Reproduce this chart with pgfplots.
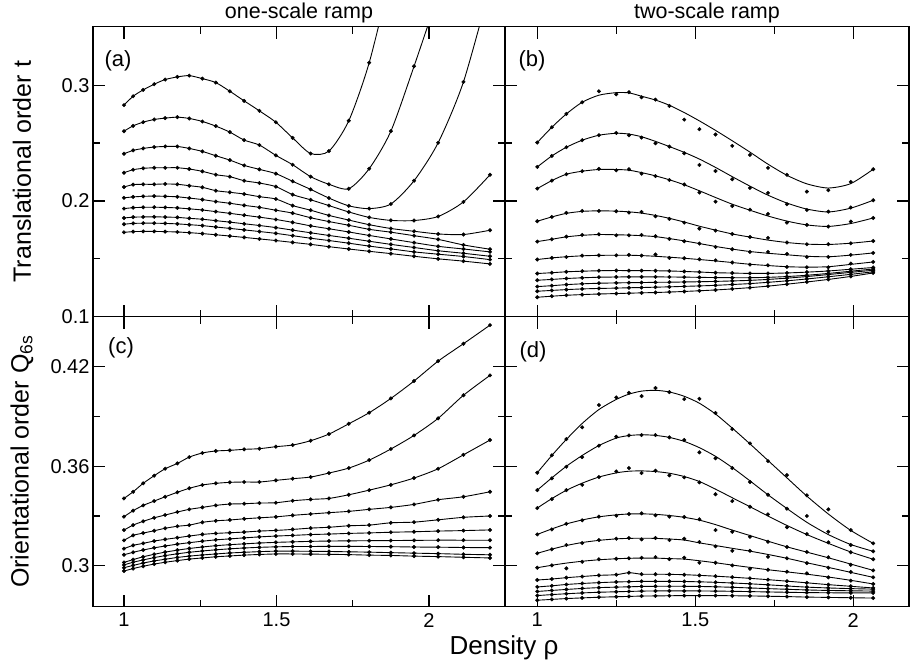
\documentclass[border=0pt]{standalone}
\usepackage{fontspec}
\setmainfont{Liberation Sans}
\usepackage{pgfplots}
\usepackage{pgfplotstable}
\pgfplotsset{compat=1.18}

% ---------- panel (a): translational order, one-scale ramp ----------
\pgfplotstableread{
x     a1     a2     a3     a4     a5     a6     a7     a8     a9     a10
1.000 0.2828 0.2603 0.2408 0.2244 0.2121 0.2027 0.1934 0.1853 0.1799 0.1729
1.030 0.2905 0.2649 0.2437 0.2270 0.2141 0.2035 0.1942 0.1860 0.1806 0.1735
1.063 0.2960 0.2681 0.2454 0.2282 0.2144 0.2040 0.1945 0.1862 0.1808 0.1737
1.099 0.3009 0.2704 0.2466 0.2287 0.2144 0.2042 0.1946 0.1863 0.1808 0.1737
1.135 0.3049 0.2716 0.2471 0.2287 0.2147 0.2040 0.1944 0.1861 0.1806 0.1735
1.175 0.3072 0.2724 0.2471 0.2287 0.2144 0.2036 0.1940 0.1858 0.1802 0.1732
1.214 0.3083 0.2713 0.2454 0.2276 0.2132 0.2025 0.1932 0.1850 0.1795 0.1726
1.257 0.3057 0.2687 0.2428 0.2256 0.2118 0.2012 0.1922 0.1842 0.1787 0.1718
1.301 0.3023 0.2647 0.2391 0.2227 0.2089 0.1995 0.1908 0.1830 0.1775 0.1708
1.347 0.2948 0.2595 0.2353 0.2210 0.2075 0.1980 0.1893 0.1817 0.1763 0.1697
1.394 0.2865 0.2526 0.2307 0.2175 0.2060 0.1962 0.1877 0.1803 0.1750 0.1685
1.444 0.2779 0.2483 0.2273 0.2155 0.2037 0.1945 0.1860 0.1788 0.1736 0.1672
1.498 0.2680 0.2394 0.2236 0.2124 0.2017 0.1920 0.1840 0.1770 0.1720 0.1658
1.553 0.2545 0.2313 0.2170 0.2055 0.1960 0.1895 0.1815 0.1748 0.1700 0.1642
1.612 0.2410 0.2210 0.2100 0.2010 0.1920 0.1855 0.1785 0.1725 0.1678 0.1625
1.672 0.2431 0.2144 0.2025 0.1960 0.1875 0.1822 0.1760 0.1702 0.1658 0.1605
1.737 0.2693 0.2106 0.1958 0.1905 0.1835 0.1790 0.1732 0.1678 0.1635 0.1585
1.804 0.3195 0.2279 0.1934 0.1858 0.1795 0.1755 0.1702 0.1652 0.1610 0.1565
1.875 0.3950 0.2603 0.1974 0.1832 0.1762 0.1730 0.1672 0.1625 0.1586 0.1545
1.951 nan    0.3164 0.2175 0.1831 0.1738 0.1700 0.1640 0.1598 0.1560 0.1522
2.030 nan    0.3780 0.2503 0.1866 0.1715 0.1668 0.1608 0.1570 0.1540 0.1500
2.113 nan    nan    0.3029 0.1992 0.1710 0.1620 0.1585 0.1548 0.1520 0.1480
2.200 nan    nan    0.3850 0.2226 0.1747 0.1583 0.1560 0.1522 0.1493 0.1456
}\tabA

% ---------- panel (c): orientational order, one-scale ramp ----------
\pgfplotstableread{
x     c1     c2     c3     c4     c5     c6     c7     c8     c9     c10
1.000 0.3406 0.3296 0.3215 0.3153 0.3103 0.3066 0.3020 0.3005 0.2988 0.2968
1.030 0.3446 0.3332 0.3245 0.3183 0.3123 0.3081 0.3037 0.3021 0.3002 0.2983
1.063 0.3497 0.3364 0.3268 0.3197 0.3135 0.3095 0.3054 0.3035 0.3016 0.2997
1.099 0.3543 0.3390 0.3289 0.3211 0.3149 0.3108 0.3069 0.3049 0.3029 0.3010
1.135 0.3585 0.3416 0.3306 0.3226 0.3159 0.3119 0.3082 0.3061 0.3039 0.3021
1.175 0.3617 0.3443 0.3324 0.3238 0.3169 0.3130 0.3094 0.3072 0.3050 0.3031
1.214 0.3655 0.3467 0.3340 0.3245 0.3179 0.3139 0.3104 0.3081 0.3058 0.3040
1.257 0.3680 0.3487 0.3352 0.3262 0.3189 0.3148 0.3113 0.3089 0.3065 0.3047
1.301 0.3692 0.3497 0.3364 0.3271 0.3195 0.3156 0.3121 0.3096 0.3071 0.3054
1.347 0.3696 0.3503 0.3372 0.3276 0.3199 0.3162 0.3127 0.3102 0.3077 0.3059
1.394 0.3702 0.3505 0.3374 0.3283 0.3203 0.3168 0.3132 0.3107 0.3081 0.3064
1.444 0.3706 0.3505 0.3378 0.3289 0.3209 0.3174 0.3137 0.3111 0.3085 0.3068
1.498 0.3718 0.3515 0.3380 0.3295 0.3213 0.3179 0.3141 0.3114 0.3088 0.3071
1.553 0.3728 0.3525 0.3392 0.3304 0.3219 0.3183 0.3144 0.3116 0.3088 0.3071
1.612 0.3754 0.3535 0.3400 0.3312 0.3227 0.3188 0.3147 0.3116 0.3087 0.3070
1.672 0.3794 0.3559 0.3406 0.3320 0.3232 0.3191 0.3149 0.3117 0.3086 0.3069
1.737 0.3856 0.3589 0.3428 0.3328 0.3241 0.3195 0.3150 0.3117 0.3084 0.3067
1.804 0.3923 0.3637 0.3456 0.3340 0.3245 0.3198 0.3151 0.3116 0.3082 0.3064
1.875 0.4009 0.3704 0.3488 0.3352 0.3259 0.3202 0.3152 0.3115 0.3079 0.3062
1.951 0.4114 0.3786 0.3529 0.3370 0.3263 0.3205 0.3153 0.3113 0.3076 0.3058
2.030 0.4234 0.3889 0.3585 0.3398 0.3277 0.3209 0.3154 0.3112 0.3073 0.3055
2.113 0.4339 0.4028 0.3669 0.3416 0.3292 0.3212 0.3154 0.3110 0.3069 0.3051
2.200 0.4451 0.4148 0.3758 0.3446 0.3300 0.3216 0.3154 0.3109 0.3066 0.3047
}\tabC

% ---------- panel (b): translational order, two-scale ramp (measured points) ----------
\pgfplotstableread{
x     b1     b2     b3     b4     b5     b6     b7     b8     b9     b10    b11
1.000 0.2505 0.2294 0.2107 0.1825 0.1649 0.1494 0.1373 0.1315 0.1260 0.1220 0.1168
1.046 0.2637 0.2389 0.2176 0.1862 0.1669 0.1508 0.1380 0.1322 0.1268 0.1227 0.1177
1.092 0.2752 0.2464 0.2231 0.1897 0.1692 0.1516 0.1388 0.1330 0.1277 0.1234 0.1185
1.142 0.2853 0.2525 0.2257 0.1914 0.1706 0.1528 0.1393 0.1336 0.1284 0.1240 0.1191
1.195 0.2948 0.2568 0.2277 0.1914 0.1712 0.1530 0.1397 0.1341 0.1289 0.1244 0.1196
1.250 0.2922 0.2588 0.2265 0.1911 0.1703 0.1530 0.1399 0.1343 0.1292 0.1247 0.1200
1.290 0.2940 0.2568 0.2274 0.1900 0.1703 0.1534 0.1398 0.1344 0.1294 0.1250 0.1203
1.330 0.2896 0.2548 0.2236 0.1905 0.1706 0.1528 0.1398 0.1344 0.1295 0.1252 0.1206
1.374 0.2876 0.2499 0.2215 0.1868 0.1695 0.1537 0.1397 0.1344 0.1297 0.1255 0.1209
1.418 0.2821 0.2470 0.2181 0.1845 0.1672 0.1508 0.1395 0.1343 0.1298 0.1258 0.1213
1.465 0.2703 0.2412 0.2142 0.1813 0.1652 0.1505 0.1391 0.1342 0.1300 0.1262 0.1218
1.513 0.2620 0.2311 0.2073 0.1761 0.1632 0.1496 0.1386 0.1340 0.1302 0.1266 0.1224
1.564 0.2574 0.2259 0.1994 0.1744 0.1603 0.1487 0.1380 0.1338 0.1305 0.1271 0.1231
1.617 0.2476 0.2188 0.1957 0.1715 0.1583 0.1468 0.1377 0.1337 0.1309 0.1278 0.1240
1.673 0.2398 0.2113 0.1925 0.1689 0.1560 0.1450 0.1374 0.1337 0.1314 0.1286 0.1251
1.730 0.2286 0.2070 0.1888 0.1681 0.1560 0.1444 0.1374 0.1340 0.1322 0.1297 0.1264
1.790 0.2226 0.1972 0.1813 0.1641 0.1542 0.1430 0.1378 0.1347 0.1333 0.1310 0.1281
1.853 0.2081 0.1922 0.1793 0.1626 0.1516 0.1427 0.1385 0.1358 0.1347 0.1326 0.1300
1.921 0.2093 0.1908 0.1779 0.1626 0.1516 0.1427 0.1395 0.1374 0.1364 0.1345 0.1322
1.992 0.2165 0.1943 0.1822 0.1634 0.1534 0.1459 0.1410 0.1393 0.1383 0.1366 0.1348
2.063 0.2274 0.2006 0.1853 0.1654 0.1551 0.1473 0.1425 0.1412 0.1401 0.1388 0.1378
}\tabB

% smooth fits through the upper six series of panel (b)
\pgfplotstableread{
x     b1     b2     b3     b4     b5     b6
1.000 0.2505 0.2294 0.2107 0.1825 0.1649 0.1494
1.046 0.2637 0.2389 0.2176 0.1862 0.1669 0.1508
1.092 0.2752 0.2464 0.2231 0.1893 0.1690 0.1518
1.142 0.2853 0.2525 0.2257 0.1910 0.1703 0.1526
1.195 0.2914 0.2568 0.2272 0.1915 0.1710 0.1530
1.250 0.2936 0.2585 0.2272 0.1912 0.1708 0.1531
1.290 0.2934 0.2578 0.2266 0.1906 0.1705 0.1531
1.330 0.2905 0.2555 0.2245 0.1895 0.1700 0.1528
1.374 0.2872 0.2515 0.2217 0.1875 0.1692 0.1522
1.418 0.2827 0.2470 0.2183 0.1850 0.1675 0.1514
1.465 0.2764 0.2420 0.2140 0.1818 0.1655 0.1505
1.513 0.2692 0.2362 0.2088 0.1782 0.1632 0.1494
1.564 0.2610 0.2290 0.2030 0.1748 0.1607 0.1482
1.617 0.2520 0.2210 0.1972 0.1715 0.1584 0.1468
1.673 0.2422 0.2128 0.1920 0.1688 0.1563 0.1453
1.730 0.2318 0.2050 0.1870 0.1662 0.1548 0.1442
1.790 0.2222 0.1982 0.1826 0.1641 0.1535 0.1432
1.853 0.2148 0.1930 0.1793 0.1627 0.1522 0.1428
1.921 0.2112 0.1905 0.1780 0.1624 0.1518 0.1432
1.992 0.2150 0.1938 0.1805 0.1635 0.1532 0.1452
2.063 0.2274 0.2006 0.1853 0.1654 0.1551 0.1473
}\fitB

% ---------- panel (d): orientational order, two-scale ramp (measured points) ----------
\pgfplotstableread{
x     d1     d2     d3     d4     d5     d6     d7     d8     d9     d10    d11
1.000 0.3561 0.3456 0.3348 0.3189 0.3075 0.2988 0.2914 0.2872 0.2845 0.2820 0.2792
1.046 0.3666 0.3527 0.3402 0.3219 0.3099 0.3002 0.2920 0.2879 0.2851 0.2826 0.2797
1.092 0.3764 0.3597 0.3456 0.3253 0.3125 0.2984 0.2928 0.2887 0.2857 0.2831 0.2802
1.142 0.3835 0.3655 0.3488 0.3274 0.3137 0.3024 0.2935 0.2893 0.2863 0.2836 0.2806
1.195 0.3969 0.3724 0.3535 0.3296 0.3155 0.3039 0.2942 0.2898 0.2868 0.2840 0.2810
1.250 0.4015 0.3778 0.3569 0.3302 0.3163 0.3042 0.2946 0.2902 0.2871 0.2843 0.2813
1.290 0.4043 0.3786 0.3589 0.3312 0.3167 0.3045 0.2958 0.2904 0.2873 0.2845 0.2815
1.330 0.4023 0.3788 0.3559 0.3316 0.3159 0.3048 0.2949 0.2906 0.2875 0.2847 0.2817
1.374 0.4072 0.3788 0.3573 0.3304 0.3167 0.3052 0.2949 0.2906 0.2876 0.2848 0.2818
1.418 0.4047 0.3774 0.3545 0.3296 0.3155 0.3040 0.2948 0.2906 0.2876 0.2848 0.2819
1.465 0.4005 0.3758 0.3533 0.3294 0.3163 0.3048 0.2946 0.2905 0.2876 0.2848 0.2820
1.513 0.4007 0.3684 0.3503 0.3280 0.3143 0.3018 0.2942 0.2903 0.2875 0.2848 0.2820
1.564 0.3921 0.3648 0.3431 0.3215 0.3117 0.3018 0.2937 0.2900 0.2873 0.2847 0.2820
1.617 0.3824 0.3589 0.3390 0.3205 0.3090 0.3002 0.2931 0.2896 0.2870 0.2846 0.2819
1.673 0.3738 0.3505 0.3356 0.3175 0.3090 0.2982 0.2924 0.2891 0.2866 0.2844 0.2818
1.730 0.3631 0.3428 0.3310 0.3145 0.3054 0.2976 0.2916 0.2885 0.2862 0.2842 0.2816
1.790 0.3547 0.3344 0.3232 0.3113 0.3045 0.2964 0.2907 0.2878 0.2858 0.2840 0.2814
1.853 0.3425 0.3300 0.3191 0.3083 0.3016 0.2954 0.2897 0.2871 0.2854 0.2838 0.2811
1.921 0.3340 0.3205 0.3141 0.3051 0.2988 0.2930 0.2886 0.2866 0.2851 0.2837 0.2809
1.992 0.3215 0.3125 0.3081 0.3006 0.2962 0.2910 0.2876 0.2862 0.2849 0.2836 0.2807
2.063 0.3135 0.3087 0.3039 0.2972 0.2930 0.2890 0.2866 0.2859 0.2847 0.2836 0.2805
}\tabD

% smooth fits through the upper six series of panel (d)
\pgfplotstableread{
x     d1     d2     d3     d4     d5     d6
1.000 0.3561 0.3456 0.3348 0.3189 0.3075 0.2988
1.046 0.3665 0.3530 0.3405 0.3222 0.3100 0.3003
1.092 0.3762 0.3600 0.3455 0.3252 0.3122 0.3016
1.142 0.3858 0.3665 0.3498 0.3276 0.3140 0.3027
1.195 0.3942 0.3725 0.3535 0.3295 0.3153 0.3036
1.250 0.4003 0.3770 0.3560 0.3307 0.3162 0.3042
1.290 0.4035 0.3785 0.3570 0.3312 0.3165 0.3045
1.330 0.4053 0.3790 0.3572 0.3313 0.3166 0.3046
1.374 0.4058 0.3786 0.3568 0.3310 0.3165 0.3046
1.418 0.4048 0.3774 0.3558 0.3303 0.3161 0.3043
1.465 0.4022 0.3750 0.3538 0.3292 0.3155 0.3040
1.513 0.3980 0.3712 0.3508 0.3275 0.3138 0.3030
1.564 0.3915 0.3660 0.3462 0.3248 0.3122 0.3018
1.617 0.3830 0.3592 0.3410 0.3215 0.3105 0.3004
1.673 0.3735 0.3512 0.3356 0.3182 0.3088 0.2990
1.730 0.3635 0.3428 0.3300 0.3148 0.3068 0.2976
1.790 0.3530 0.3345 0.3243 0.3114 0.3045 0.2963
1.853 0.3420 0.3262 0.3188 0.3082 0.3018 0.2949
1.921 0.3312 0.3188 0.3135 0.3048 0.2990 0.2932
1.992 0.3213 0.3128 0.3083 0.3010 0.2960 0.2912
2.063 0.3135 0.3087 0.3039 0.2972 0.2930 0.2890
}\fitD

\tikzset{plab/.style={font=\fontsize{22}{26}\selectfont},
         head/.style={font=\fontsize{21.5}{26}\selectfont, anchor=base, inner sep=0pt}}

\pgfplotsset{
  panel/.style={
    scale only axis,
    height=290pt,
    axis line style={line width=1.5pt},
    tick align=inside,
    major tick length=12pt,
    minor tick length=7pt,
    tick style={black, line width=1.3pt},
    tick label style={font=\fontsize{20}{24}\selectfont},
    clip=true,
    unbounded coords=discard,
  },
  left panel/.style={panel, width=412pt, xmin=0.8984, xmax=2.2492,
    xtick={1,1.5,2}, minor xtick={1.25,1.75}},
  right panel/.style={panel, width=404pt, xmin=0.8978, xmax=2.1763,
    xtick={1,1.5,2}, minor xtick={1.25,1.75}, yticklabels={}},
  upper/.style={ymin=0.1, ymax=0.3506, ytick={0.1,0.2,0.3},
    minor ytick={0.15,0.25}, xticklabels={}},
  lower/.style={ymin=0.2753, ymax=0.4502, ytick={0.3,0.36,0.42},
    minor ytick={0.33,0.39}, xticklabels={1,1.5,2},
    xticklabel style={yshift=-3pt}},
  ylab/.style={ylabel style={font=\fontsize{25}{30}\selectfont,
    at={(axis description cs:-0.1723,0.5)}, anchor=center}},
  fit/.style={black, line width=0.9pt, smooth, tension=0.45, no marks},
  pts/.style={only marks, mark=*, mark size=1.8pt, black},
}

\begin{document}
\begin{tikzpicture}
\useasboundingbox (-93pt,-61.3pt) rectangle (818pt,606.7pt);

% (a) one-scale ramp, translational order
\begin{axis}[left panel, upper, ylab, at={(0pt,290pt)}, anchor=south west,
  yticklabels={0.1,0.2,0.3},
  ylabel={Translational order t}]
  \pgfplotsinvokeforeach{1,...,10}{
    \addplot[fit] table[x=x, y=a#1] {\tabA};
    \addplot[pts] table[x=x, y=a#1] {\tabA};
  }
  \node[plab] at (rel axis cs:0.0607,0.882) {(a)};
\end{axis}

% (b) two-scale ramp, translational order
\begin{axis}[right panel, upper, at={(412pt,290pt)}, anchor=south west]
  \pgfplotsinvokeforeach{1,...,6}{
    \addplot[fit] table[x=x, y=b#1] {\fitB};
  }
  \pgfplotsinvokeforeach{7,...,11}{
    \addplot[fit] table[x=x, y=b#1] {\tabB};
  }
  \pgfplotsinvokeforeach{1,...,11}{
    \addplot[pts] table[x=x, y=b#1] {\tabB};
  }
  \node[plab] at (rel axis cs:0.0668,0.882) {(b)};
\end{axis}

% (c) one-scale ramp, orientational order
\begin{axis}[left panel, lower, ylab, at={(0pt,0pt)}, anchor=south west,
  yticklabels={0.3,0.36,0.42},
  ylabel={Orientational order Q\textsubscript{6s}}]
  \pgfplotsinvokeforeach{1,...,10}{
    \addplot[fit] table[x=x, y=c#1] {\tabC};
    \addplot[pts] table[x=x, y=c#1] {\tabC};
  }
  \node[plab] at (rel axis cs:0.068,0.892) {(c)};
\end{axis}

% (d) two-scale ramp, orientational order
\begin{axis}[right panel, lower, at={(412pt,0pt)}, anchor=south west]
  \pgfplotsinvokeforeach{1,...,6}{
    \addplot[fit] table[x=x, y=d#1] {\fitD};
  }
  \pgfplotsinvokeforeach{7,...,11}{
    \addplot[fit] table[x=x, y=d#1] {\tabD};
  }
  \pgfplotsinvokeforeach{1,...,11}{
    \addplot[pts] table[x=x, y=d#1] {\tabD};
  }
  \node[plab] at (rel axis cs:0.0693,0.878) {(d)};
\end{axis}

% column headings and common x label
\node[head] at (206pt,588.5pt) {one-scale ramp};
\node[head] at (614pt,588.5pt) {two-scale ramp};
\node[font=\fontsize{26}{31}\selectfont, anchor=base] at (411pt,-48.3pt) {Density ρ};
\end{tikzpicture}
\end{document}
